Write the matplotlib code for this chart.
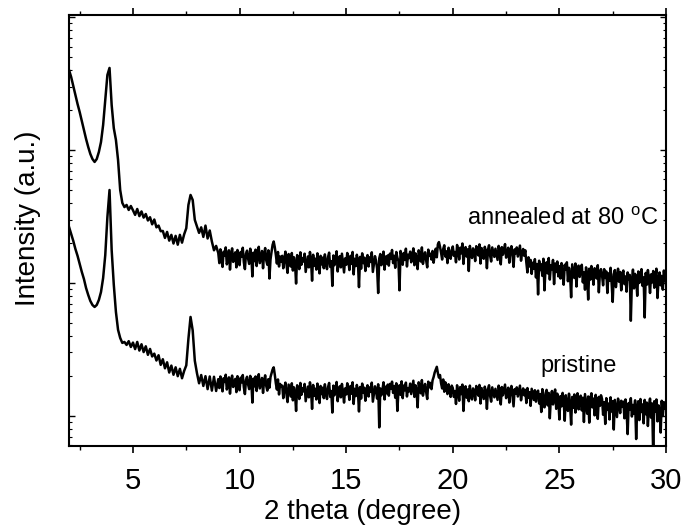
import numpy as np
import matplotlib

matplotlib.use("Agg")
import matplotlib.pyplot as plt
from matplotlib.ticker import LogLocator, NullFormatter, MultipleLocator

# 2 theta (degree): 0.1 step up to 8.9, then 0.05 step in the noisy part
two_theta = np.concatenate([
    np.round(np.arange(2.0, 8.95, 0.1), 1),
    np.round(np.arange(9.0, 30.001, 0.05), 2),
])

# annealed at 80 C (counts)
annealed = [
    # 2.0 - 8.9, step 0.1
    4000, 3540, 3030, 2594, 2218, 1930, 1652, 1413, 1210, 1054,
    933, 855, 813, 855, 966, 1148, 1542, 2375, 3664, 4140,
    2180, 1460, 1190, 841, 500, 400, 372, 386, 354, 379,
    352, 325, 360, 318, 345, 310, 330, 295, 312, 276,
    300, 262, 270, 245, 246, 218, 242, 208, 230, 198,
    226, 194, 230, 201, 232, 258, 386, 459, 421, 298,
    266, 238, 262, 222, 270, 216, 248, 205, 176, 190,
    # 9.0 - 30.0, step 0.05
    168, 141, 179, 150, 132, 172, 160, 185, 138, 147, 176, 126, 163, 182, 144, 158, 170, 131, 177, 149,
    136, 171, 158, 184, 143, 127, 166, 175, 152, 139, 181, 160, 112, 169, 146, 178, 134, 162, 187, 141,
    157, 174, 129, 165, 183, 148, 137, 176, 108, 150, 172, 194, 205, 186, 163, 140, 171, 133, 158, 145,
    160, 129, 151, 172, 138, 119, 165, 147, 133, 168, 124, 156, 141, 99, 162, 150, 127, 170, 137, 154,
    145, 166, 121, 139, 158, 131, 171, 149, 104, 163, 135, 152, 126, 167, 143, 118, 160, 138, 155, 129,
    164, 140, 127, 157, 169, 132, 146, 95, 161, 136, 150, 173, 122, 144, 159, 131, 166, 142, 120, 153,
    137, 168, 148, 125, 160, 139, 171, 116, 152, 134, 163, 145, 93, 157, 128, 167, 141, 155, 123, 149,
    162, 133, 156, 144, 170, 121, 138, 159, 147, 128, 84, 153, 165, 136, 149, 172, 126, 158, 140, 161,
    135, 166, 152, 177, 141, 160, 130, 171, 155, 146, 88, 174, 158, 137, 168, 149, 181, 133, 163, 154,
    172, 143, 159, 182, 136, 167, 151, 127, 176, 162, 145, 185, 139, 157, 170, 148, 131, 178, 160, 166,
    150, 174, 142, 163, 181, 156, 195, 203, 187, 169, 150, 180, 192, 158, 173, 141, 184, 166, 152, 177,
    188, 160, 171, 143, 193, 176, 150, 184, 167, 198, 139, 172, 186, 158, 179, 123, 190, 165, 154, 182,
    170, 146, 189, 176, 161, 195, 140, 183, 168, 152, 187, 174, 129, 178, 192, 160, 145, 185, 171, 157,
    181, 165, 149, 190, 172, 138, 186, 163, 177, 196, 155, 170, 184, 142, 175, 189, 161, 132, 179, 167,
    185, 158, 173, 191, 147, 169, 180, 160, 176, 142, 120, 156, 133, 149, 117, 142, 128, 151, 110, 139,
    82, 147, 125, 138, 113, 152, 88, 131, 143, 118, 154, 106, 136, 127, 149, 98, 140, 121, 145, 112,
    134, 108, 141, 119, 97, 137, 126, 143, 103, 130, 115, 78, 138, 122, 109, 140, 94, 128, 135, 111,
    126, 137, 101, 120, 89, 131, 113, 75, 128, 106, 134, 118, 97, 129, 123, 108, 136, 85, 119, 127,
    114, 96, 127, 109, 122, 84, 118, 104, 130, 99, 72, 116, 125, 93, 111, 128, 102, 121, 88, 117,
    124, 98, 112, 86, 120, 107, 115, 52, 103, 126, 91, 117, 109, 80, 122, 100, 114, 127, 95, 110,
    55, 119, 97, 125, 108, 84, 116, 101, 123, 92, 111, 128, 77, 106, 120, 96, 113, 89, 124, 103,
    112,
]

# pristine (counts)
pristine = [
    # 2.0 - 8.9, step 0.1
    264, 233, 207, 180, 160, 139, 121, 107, 91.6, 81.3,
    73.2, 68.3, 66.0, 68.3, 74.5, 85.5, 109, 162, 313, 500,
    177, 97, 60.5, 44.4, 38.6, 35.4, 36.0, 34.2, 36.5, 33.0,
    35.6, 31.8, 36.0, 31.0, 34.6, 30.2, 33.4, 28.8, 31.9, 28.0,
    29.4, 26.1, 28.6, 24.2, 26.7, 22.8, 25.3, 21.2, 23.9, 20.4,
    23.2, 19.9, 22.6, 19.2, 21.8, 24.0, 38.0, 55.5, 44.0, 26.0,
    21.0, 17.6, 20.3, 16.8, 19.9, 15.9, 19.8, 15.5, 19.7, 15.4,
    # 9.0 - 30.0, step 0.05
    18.9, 16.2, 19.8, 17.1, 15.3, 19.2, 18.0, 20.4, 15.8, 16.9, 19.5, 14.7, 18.4, 20.1, 16.5, 17.8, 19.0, 15.1, 19.9, 17.0,
    15.6, 19.4, 17.9, 20.3, 16.4, 14.6, 18.7, 19.7, 17.2, 15.9, 20.0, 18.1, 12.6, 19.1, 16.7, 19.8, 15.4, 18.3, 20.6, 16.1,
    17.7, 19.3, 14.9, 18.5, 20.2, 16.8, 15.5, 18.9, 16.3, 19.6, 21.0, 22.4, 23.2, 20.5, 17.6, 15.8, 18.8, 14.5, 17.4, 16.6,
    16.9, 13.6, 16.0, 17.8, 14.5, 12.7, 17.2, 15.5, 14.0, 17.6, 13.1, 16.4, 14.9, 10.9, 17.0, 15.8, 13.4, 17.7, 14.4, 16.2,
    15.3, 17.4, 12.9, 14.7, 16.6, 13.8, 17.9, 15.7, 11.3, 17.1, 14.2, 16.0, 13.3, 17.5, 15.1, 12.5, 16.8, 14.6, 16.3, 13.6,
    17.3, 14.8, 13.4, 16.5, 17.7, 13.9, 15.4, 10.6, 16.9, 14.3, 15.8, 18.0, 12.9, 15.2, 16.7, 13.8, 17.4, 15.0, 12.6, 16.1,
    14.5, 17.6, 15.6, 13.2, 16.8, 14.7, 17.9, 12.3, 16.0, 14.1, 17.1, 15.3, 10.8, 16.5, 13.5, 17.5, 14.9, 16.3, 13.0, 15.7,
    17.0, 14.0, 16.4, 15.2, 17.8, 12.8, 14.6, 16.7, 15.5, 13.5, 17.3, 8.2, 16.1, 14.3, 15.7, 17.9, 13.3, 16.6, 14.8, 17.2,
    14.2, 17.4, 16.0, 18.1, 14.9, 16.8, 13.7, 17.6, 10.9, 15.4, 17.0, 14.4, 18.2, 13.6, 16.9, 15.6, 17.8, 14.0, 16.2, 15.3,
    17.5, 14.6, 16.3, 18.4, 13.9, 17.0, 15.4, 11.6, 17.9, 16.5, 14.8, 18.6, 14.2, 16.0, 17.4, 15.1, 13.4, 18.1, 16.4, 17.7,
    15.9, 18.5, 19.6, 21.2, 22.3, 23.4, 21.0, 19.4, 20.3, 17.6, 16.1, 18.8, 15.2, 17.9, 16.4, 14.6, 17.3, 15.8, 13.9, 16.9,
    16.2, 13.9, 15.4, 12.3, 17.0, 15.1, 13.0, 16.5, 14.6, 17.2, 10.9, 15.0, 16.7, 13.7, 15.8, 12.9, 16.9, 14.4, 13.3, 16.1,
    15.3, 13.1, 16.8, 15.6, 14.2, 17.1, 12.4, 16.2, 14.8, 13.4, 16.6, 15.2, 11.3, 15.9, 17.0, 14.1, 12.8, 16.4, 15.0, 13.8,
    16.0, 14.5, 13.2, 16.9, 15.3, 12.2, 16.5, 14.3, 15.7, 17.2, 13.6, 15.1, 16.3, 12.6, 15.5, 16.8, 14.2, 11.8, 15.9, 14.7,
    16.4, 14.0, 15.4, 16.9, 13.1, 15.0, 16.1, 14.3, 15.7, 12.5, 16.2, 13.7, 15.1, 11.9, 16.0, 14.5, 13.2, 15.6, 12.8, 14.9,
    15.5, 12.4, 14.6, 10.7, 15.9, 13.2, 11.6, 14.8, 15.7, 12.0, 14.9, 9.6, 13.8, 15.4, 12.2, 14.3, 15.8, 11.3, 14.7, 13.0,
    9.4, 14.1, 11.8, 14.9, 13.0, 9.2, 14.3, 12.6, 10.9, 14.7, 12.1, 8.6, 13.9, 11.5, 14.5, 10.6, 13.4, 14.8, 11.2, 13.6,
    14.2, 11.0, 13.7, 9.0, 14.6, 12.3, 10.4, 14.0, 8.9, 13.2, 14.8, 11.6, 13.5, 10.1, 14.4, 12.7, 9.5, 13.9, 11.9, 14.3,
    13.4, 10.2, 12.7, 8.7, 13.6, 11.1, 12.4, 9.4, 13.8, 10.8, 12.9, 7.9, 13.2, 11.4, 9.8, 13.5, 12.0, 10.5, 13.0, 11.7,
    12.8, 9.6, 13.3, 10.9, 7.3, 12.5, 11.2, 13.6, 9.9, 12.1, 10.4, 13.1, 6.7, 11.6, 12.9, 9.3, 13.4, 10.7, 12.2, 8.8,
    13.2, 10.3, 12.6, 8.4, 11.8, 13.5, 9.7, 12.4, 5.0, 12.9, 10.8, 13.3, 9.1, 12.0, 11.1, 7.5, 13.0, 10.0, 12.7, 11.4,
    12.0,
]

x_ticks = [5, 10, 15, 20, 25, 30]

plt.rcParams["font.family"] = ["Liberation Sans", "DejaVu Sans"]
plt.rcParams["mathtext.fontset"] = "custom"
plt.rcParams["mathtext.rm"] = "Liberation Sans"

fig = plt.figure(figsize=(6.84, 5.29), dpi=100)
ax = fig.add_axes([0.1009, 0.1569, 0.8728, 0.8147])

ax.plot(two_theta, annealed, color="black", lw=1.8)
ax.plot(two_theta, pristine, color="black", lw=1.8)

ax.set_yscale("log")
ax.set_xlim(2, 30)
ax.set_ylim(5.94, 10350)

ax.set_xticks(x_ticks)
ax.xaxis.set_minor_locator(MultipleLocator(2.5))
ax.tick_params(axis="x", which="major", direction="out", length=5, width=1.2,
               labelsize=21, pad=10, top=True)
ax.tick_params(axis="x", which="minor", direction="out", length=3, width=1.0, top=True)
ax.yaxis.set_major_locator(LogLocator(base=10))
ax.yaxis.set_minor_locator(LogLocator(base=10, subs=np.arange(2, 10)))
ax.yaxis.set_major_formatter(NullFormatter())
ax.yaxis.set_minor_formatter(NullFormatter())
ax.tick_params(axis="y", which="both", direction="in", left=True, right=True)
ax.tick_params(axis="y", which="major", length=4, width=1.0)
ax.tick_params(axis="y", which="minor", length=2.5, width=0.8)
for s in ax.spines.values():
    s.set_linewidth(1.5)

ax.set_xlabel("2 theta (degree)", fontsize=20)
ax.xaxis.set_label_coords(0.492, -0.124)
ax.set_ylabel("Intensity (a.u.)", fontsize=20)
ax.yaxis.set_label_coords(-0.047, 0.529)

ax.text(0.987, 0.513, r"annealed at 80 $^{\rm o}$C", transform=ax.transAxes,
        ha="right", va="baseline", fontsize=17)
ax.text(0.853, 0.172, "pristine", transform=ax.transAxes,
        ha="center", va="baseline", fontsize=17)

fig.savefig("out.png", dpi=100)
